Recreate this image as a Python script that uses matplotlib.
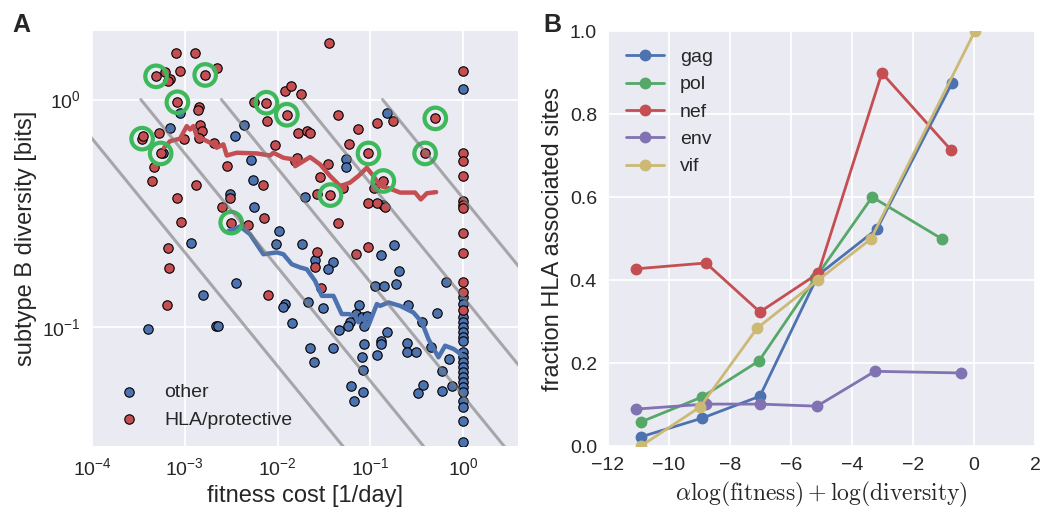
import numpy as np
import matplotlib.pyplot as plt

plt.style.use('seaborn-v0_8-darkgrid')
plt.rcParams['font.family'] = ['Liberation Sans', 'DejaVu Sans']
plt.rcParams['mathtext.fontset'] = 'custom'
plt.rcParams['mathtext.rm'] = 'Liberation Sans'
plt.rcParams['mathtext.it'] = 'Liberation Sans:italic'
plt.rcParams['mathtext.bf'] = 'Liberation Sans:bold'

BLUE = '#4C72B0'
GREEN = '#55A868'
RED = '#C44E52'
PURPLE = '#8172B2'
YELLOW = '#CCB974'

# ---- panel A : values read in log10 units (fitness cost, diversity) ----
other_logfit = [-3.05, -3.16, -3.24, -2.51, -2.36, -2.46, -2.29, -2.26, -2.25, -1.99,
                -1.70, -0.82, 0.0, -1.26, -1.26, -0.86, -2.93, -3.40, -2.80, -2.45,
                -2.66, -2.64, -1.92, -1.94, -1.84, -2.02, -1.74, -1.60, -1.40, -1.46,
                -0.89, -0.74, -0.69, -0.95, -0.85, -0.72, -1.67, -1.51, -1.12, -1.16,
                -1.22, -1.24, -1.09, -1.07, -1.04, -1.34, -0.82, -0.59, -0.28, -0.18,
                -0.44, -1.65, -1.40, -1.61, -1.07, -0.88, -0.89, -1.09, -0.93, -1.08,
                -0.60, -0.61, -0.51, -0.35, -0.15, -0.23, -1.21, -1.08, -1.18, -0.43,
                -0.49, -0.23, -0.12,
                0.0, 0.0, 0.0, 0.0, 0.0, 0.0, 0.0, 0.0, 0.0, 0.0, 0.0,
                0.0, 0.0, 0.0, 0.0, 0.0, 0.0, 0.0, 0.0, 0.0, 0.0]
other_logdiv = [-0.058, -0.123, -0.237, -0.414, -0.113, -0.161, -0.268, -0.354, -0.474, -0.578,
                -0.430, -0.058, 0.047, -0.263, -0.297, -0.464, -0.632, -1.010, -0.860, -0.808,
                -0.994, -0.994, -0.899, -0.911, -0.984, -0.636, -0.633, -0.706, -0.712, -0.744,
                -0.683, -0.639, -0.753, -0.819, -0.819, -0.811, -0.889, -0.917, -0.904, -0.943,
                -0.979, -0.994, -0.955, -0.994, -0.950, -1.013, -1.021, -0.904, -0.939, -0.803,
                -0.979, -1.092, -1.092, -1.152, -1.075, -1.060, -1.075, -1.133, -1.123, -1.189,
                -1.072, -1.111, -1.111, -1.086, -1.140, -1.192, -1.260, -1.286, -1.323, -1.253,
                -1.288, -1.279, -1.260,
                -0.870, -0.899, -0.957, -0.979, -1.001, -1.023, -1.045, -1.060, -1.111, -1.133, -1.155,
                -1.177, -1.199, -1.221, -1.243, -1.264, -1.286, -1.323, -1.352, -1.415, -1.506]

hla_logfit = [-3.10, -2.89, -2.65, -3.21, -3.31, -3.16, -3.18, -3.05, -2.78, -3.08,
              -2.85, -2.86, -3.28, -3.46, -3.45, -3.26, -2.84, -2.81, -2.85, -3.01,
              -2.68, -3.33, -3.35, -2.88, -3.08, -3.04, -2.51, -2.60, -2.50, -2.32,
              -2.55, -2.16, -2.15, -2.25, -2.12, -2.11, -1.90, -1.92, -1.85, -1.75,
              -2.03, -1.78, -1.68, -1.65, -1.81, -1.79, -1.45, -1.35, -1.13, -0.93,
              -0.76, -0.30, -1.23, -1.02, -1.46, -1.54, -0.86, -0.96, -1.30, -1.58,
              -1.43, -1.03, -0.93, -0.84, -0.41, -1.35, -3.18, -3.17, -3.19, -2.10,
              -1.57, -1.60, -1.15, -1.02, -1.53,
              0.0, 0.0, 0.0, 0.0, 0.0, 0.0, 0.0, 0.0, 0.0, 0.0, 0.0, 0.0]
hla_logdiv = [0.205, 0.205, 0.139, 0.120, 0.102, 0.091, 0.083, 0.124, 0.108, -0.012,
              -0.032, -0.048, -0.146, -0.172, -0.160, -0.237, -0.110, -0.139, -0.168, -0.175,
              -0.190, -0.298, -0.360, -0.377, -0.433, -0.538, -0.434, -0.474, -0.541, -0.553,
              -0.293, -0.376, -0.522, -0.012, -0.014, -0.096, -0.067, 0.039, 0.061, 0.025,
              -0.199, -0.146, -0.139, -0.146, -0.271, -0.258, 0.249, -0.069, -0.129, -0.105,
              -0.095, -0.083, -0.197, -0.237, -0.282, -0.339, -0.358, -0.387, -0.390, -0.414,
              -0.420, -0.453, -0.453, -0.472, -0.237, -0.541, -0.654, -0.741, -0.904, -0.857,
              -0.668, -0.738, -0.680, -0.650, -0.829,
              0.127, -0.234, -0.271, -0.336, -0.446, -0.464, -0.478, -0.585, -0.675, -0.804,
              -0.848, -0.925]

ring_logfit = [-3.31, -2.78, -3.08, -3.46, -3.26, -2.50, -2.12, -1.90, -0.30, -1.02,
               -0.41, -0.86, -1.43]
ring_logdiv = [0.102, 0.108, -0.012, -0.172, -0.237, -0.541, -0.014, -0.067, -0.083, -0.237,
               -0.237, -0.358, -0.420]

hla_avg_logfit = [-3.224, -3.159, -3.051, -2.979, -2.943, -2.908, -2.871, -2.800, -2.692, -2.656,
                  -2.584, -2.548, -2.440, -2.224, -2.081, -2.045, -1.937, -1.830, -1.811, -1.722,
                  -1.650, -1.542, -1.434, -1.326, -1.272, -1.218, -1.129, -1.038, -0.967, -0.895,
                  -0.787, -0.679, -0.518, -0.456, -0.391, -0.291]
hla_avg_logdiv = [-0.212, -0.183, -0.172, -0.117, -0.132, -0.117, -0.161, -0.175, -0.197, -0.212,
                  -0.197, -0.246, -0.234, -0.237, -0.246, -0.234, -0.256, -0.263, -0.293, -0.271,
                  -0.253, -0.285, -0.336, -0.380, -0.373, -0.365, -0.336, -0.300, -0.336, -0.380,
                  -0.392, -0.409, -0.409, -0.439, -0.412, -0.407]

other_avg_logfit = [-2.530, -2.404, -2.297, -2.153, -2.009, -1.937, -1.847, -1.757, -1.685, -1.596,
                    -1.523, -1.398, -1.308, -1.237, -1.164, -1.129, -1.092, -1.021, -0.930, -0.895,
                    -0.805, -0.679, -0.536, -0.445, -0.374, -0.266, -0.194, -0.105, -0.051, -0.014]
other_avg_logdiv = [-0.578, -0.558, -0.592, -0.680, -0.672, -0.680, -0.724, -0.738, -0.746, -0.797,
                    -0.863, -0.863, -0.943, -0.943, -0.950, -0.979, -0.957, -0.994, -0.899, -0.907,
                    -0.892, -0.907, -0.936, -0.979, -1.053, -1.133, -1.082, -1.096, -1.111, -1.126]

# levels of alpha*ln(fitness) + ln(diversity) for the grey guide lines
guide_levels = [-5, -4, -3, -2, -1]
alpha_exp = 0.5

# ---- panel B ----
genes = ['gag', 'pol', 'nef', 'env', 'vif']
gene_colors = [BLUE, GREEN, RED, PURPLE, YELLOW]
gene_x = {
    'gag': [-10.92, -8.92, -7.02, -5.11, -3.18, -0.72],
    'pol': [-10.92, -8.92, -7.05, -5.20, -3.34, -1.05],
    'nef': [-11.08, -8.79, -7.02, -5.11, -3.02, -0.75],
    'env': [-11.08, -8.79, -7.02, -5.15, -3.25, -0.43],
    'vif': [-10.92, -8.98, -7.11, -5.11, -3.38, 0.03],
}
gene_y = {
    'gag': [0.022, 0.067, 0.12, 0.412, 0.523, 0.875],
    'pol': [0.058, 0.118, 0.205, 0.405, 0.600, 0.499],
    'nef': [0.427, 0.441, 0.323, 0.416, 0.899, 0.713],
    'env': [0.089, 0.101, 0.101, 0.096, 0.180, 0.176],
    'vif': [0.0, 0.094, 0.284, 0.400, 0.499, 1.0],
}

fig = plt.figure(figsize=(10.42, 5.07), dpi=100)
axA = fig.add_axes([0.0883, 0.1203, 0.4088, 0.8185])
axB = fig.add_axes([0.5835, 0.1203, 0.4098, 0.8185])

# panel A
axA.set_xscale('log')
axA.set_yscale('log')
axA.scatter(10**np.array(other_logfit), 10**np.array(other_logdiv), s=46, color=BLUE,
            edgecolor='k', linewidth=0.8, zorder=3, label='other')
axA.scatter(10**np.array(hla_logfit), 10**np.array(hla_logdiv), s=46, color=RED,
            edgecolor='k', linewidth=0.8, zorder=3, label='HLA/protective')
axA.plot(10**np.array(hla_avg_logfit), 10**np.array(hla_avg_logdiv), color=RED, lw=3.2, zorder=4)
axA.plot(10**np.array(other_avg_logfit), 10**np.array(other_avg_logdiv), color=BLUE, lw=3.2, zorder=4)
axA.scatter(10**np.array(ring_logfit), 10**np.array(ring_logdiv), s=240, facecolor='none',
            edgecolor='#3DB85A', linewidth=3, zorder=5)
for c in guide_levels:
    f = np.logspace(np.log10(np.exp(c / alpha_exp)), 1, 50)
    d = np.exp(c) * f**(-alpha_exp)
    axA.plot(f, d, color='#7a7a7a', lw=2.2, alpha=0.6, zorder=6)

axA.set_xlim(1e-4, 3.9)
axA.set_ylim(0.03, 2.0)
axA.set_xticks([1e-4, 1e-3, 1e-2, 1e-1, 1e0])
axA.set_yticks([1e-1, 1e0])
axA.minorticks_off()
axA.tick_params(labelsize=14, pad=8)
axA.set_xlabel('fitness cost [1/day]', fontsize=17)
axA.set_ylabel('subtype B diversity [bits]', fontsize=17)
axA.grid(True, color='white', lw=1.3)
axA.legend(loc='lower left', frameon=False, fontsize=14, scatterpoints=1)

# panel B
for g, col in zip(genes, gene_colors):
    axB.plot(gene_x[g], gene_y[g], '-o', color=col, lw=2, ms=7.5, label=g)
axB.set_xlim(-12, 2)
axB.set_ylim(0, 1)
axB.set_xticks(np.arange(-12, 3, 2))
axB.set_yticks([0.0, 0.2, 0.4, 0.6, 0.8, 1.0])
axB.set_xticklabels(['\u221212', '\u221210', '\u22128', '\u22126', '\u22124', '\u22122', '0', '2'])
axB.set_yticklabels(['0.0', '0.2', '0.4', '0.6', '0.8', '1.0'])
axB.tick_params(labelsize=14, pad=8)
axB.set_xlabel(r'$\alpha\log(\mathrm{fitness})+\log(\mathrm{diversity})$', fontsize=17,
               math_fontfamily='cm')
axB.set_ylabel('fraction HLA associated sites', fontsize=17)
axB.grid(True, color='white', lw=1.3)
axB.legend(loc='upper left', frameon=False, fontsize=14)

fig.text(12 / 1042, 1 - 32 / 507, 'A', fontsize=18, fontweight='bold')
fig.text(543 / 1042, 1 - 32 / 507, 'B', fontsize=18, fontweight='bold')

fig.savefig('out.png', dpi=100)
